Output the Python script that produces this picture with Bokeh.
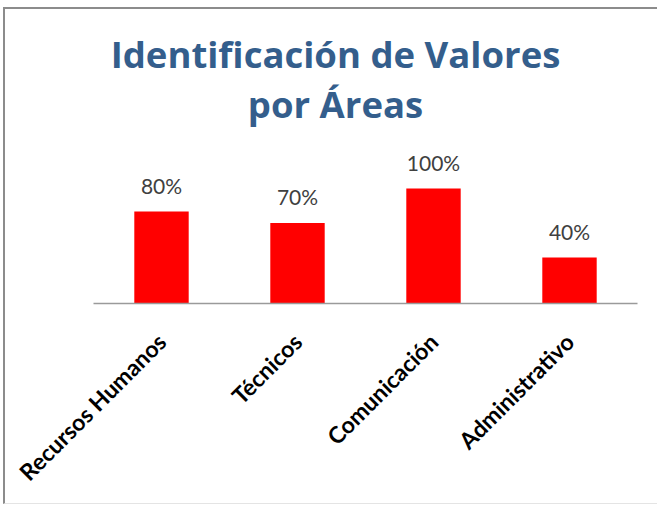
import math
from bokeh.plotting import figure
from bokeh.models import ColumnDataSource, Range1d, Label, LabelSet
from bokeh.core.properties import value
from bokeh.embed import file_html
from bokeh.resources import INLINE

categories = ["Recursos Humanos", "Técnicos", "Comunicación", "Administrativo"]
values = [80, 70, 100, 40]
value_labels = ["80%", "70%", "100%", "40%"]
title_lines = ["Identificación de Valores", "por Áreas"]

source = ColumnDataSource(data=dict(cat=categories, val=values, lab=value_labels))

p = figure(x_range=categories, y_range=Range1d(0, 255.7),
           width=654, height=497,
           min_border_left=88, min_border_right=22,
           min_border_bottom=203, min_border_top=0,
           toolbar_location=None, output_backend="svg")
p.title.visible = False

p.vbar(x="cat", top="val", width=0.4, source=source,
       fill_color="#FF0000", line_color=None)

labels = LabelSet(x="cat", y="val", text="lab", source=source,
                  text_align="center", text_baseline="alphabetic",
                  y_offset=18, text_font=value("Lato"), text_font_size="21px",
                  text_color="#404040")
p.add_layout(labels)

title_color = "#345E8C"
for txt, ys in zip(title_lines, [250, 200]):
    p.add_layout(Label(x=242, y=ys, x_units="screen", y_units="screen",
                       text=txt, text_align="center", text_baseline="alphabetic",
                       text_font="Open Sans", text_font_size="36.5px",
                       text_font_style="bold", text_color=title_color))

p.yaxis.visible = False
p.xgrid.grid_line_color = None
p.ygrid.grid_line_color = None
p.outline_line_color = None
p.xaxis.axis_line_color = "#9a9a9a"
p.xaxis.axis_line_width = 1.5
p.xaxis.major_tick_line_color = None
p.xaxis.minor_tick_line_color = None
p.xaxis.major_label_orientation = math.pi / 4
p.xaxis.major_label_text_font = "Lato"
p.xaxis.major_label_text_font_style = "bold"
p.xaxis.major_label_text_font_size = "23px"
p.xaxis.major_label_text_color = "#000000"
p.xaxis.major_label_standoff = 28
p.x_range.range_padding = 0.0

p.styles = {"margin-left": "3px", "margin-top": "7px",
            "border-left": "2px solid #8c8c8c", "border-top": "2px solid #8c8c8c",
            "border-bottom": "1px solid #e4e4e4"}

open("out.html", "w").write(file_html(p, INLINE))
